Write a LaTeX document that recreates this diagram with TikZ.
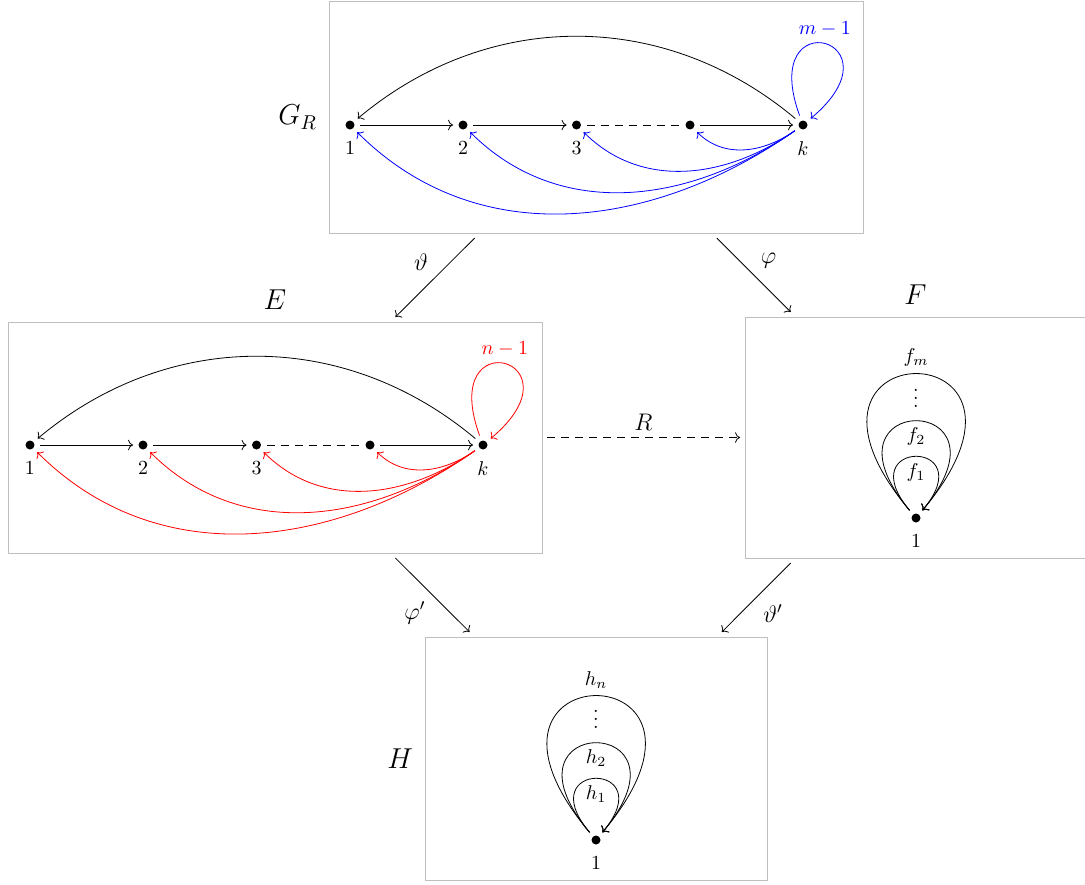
\documentclass[tikz,border=0pt]{standalone}
\usepackage{amsmath,amssymb}
\usetikzlibrary{arrows.meta,positioning}

\begin{document}
\begin{tikzpicture}[
  x=0.5pt, y=-0.5pt,
  dot/.style={circle, fill, inner sep=0pt, minimum size=4.5pt, outer sep=2.75pt, label distance=-1pt, every label/.style={inner sep=1pt}},
  box/.style={draw=gray!50, inner sep=0pt, outer sep=2.5pt},
  arr/.style={->},
  dsh/.style={dash pattern=on 4pt off 3pt},
  lab/.style={font=\large, midway}
]
\useasboundingbox (0,0) rectangle (1085,884);
% frames
\node[box, minimum width=267pt, minimum height=116pt, label=left:{\Large $G_R$}] (GR) at (596,117) {};
\node[box, minimum width=267pt, minimum height=115.5pt, label=above:{\Large $E$}] (E) at (275,437.5) {};
\node[box, minimum width=170.5pt, minimum height=120.5pt, label=above:{\Large $F$}] (F) at (915.5,437.5) {};
\node[box, minimum width=171pt, minimum height=121.5pt, label=left:{\Large $H$}] (H) at (596,758.5) {};

% graph G_R
\node[dot, label=below:$1$] (g1) at (350,125) {};
\node[dot, label=below:$2$] (g2) at (463,125) {};
\node[dot, label=below:$3$] (g3) at (576.5,125) {};
\node[dot] (g4) at (690,125) {};
\node[dot, label=below:$k$] (gk) at (803,125) {};
\draw[arr] (g1) -- (g2);
\draw[arr] (g2) -- (g3);
\draw[dsh] (g3) -- (g4);
\draw[arr] (g4) -- (gk);
\draw[arr] (gk) to[out=140,in=40] (g1);
\draw[arr, blue] (gk) to[out=110,in=40,min distance=62pt] node[above]{$m-1$} (gk);
\foreach \t in {g4,g3,g2,g1}
  \draw[arr, blue] (gk) to[out=215,in=-45] (\t);

% graph E
\node[dot, label=below:$1$] (e1) at (30,445) {};
\node[dot, label=below:$2$] (e2) at (143,445) {};
\node[dot, label=below:$3$] (e3) at (256.5,445) {};
\node[dot] (e4) at (370,445) {};
\node[dot, label=below:$k$] (ek) at (483,445) {};
\draw[arr] (e1) -- (e2);
\draw[arr] (e2) -- (e3);
\draw[dsh] (e3) -- (e4);
\draw[arr] (e4) -- (ek);
\draw[arr] (ek) to[out=140,in=40] (e1);
\draw[arr, red] (ek) to[out=110,in=40,min distance=62pt] node[above]{$n-1$} (ek);
\foreach \t in {e4,e3,e2,e1}
  \draw[arr, red] (ek) to[out=215,in=-45] (\t);

% bouquet F
\node[dot, label=below:$1$] (fv) at (916,518) {};
\draw[arr] (fv) to[out=130,in=50,min distance=47pt] node[below]{$f_1$} (fv);
\draw[arr] (fv) to[out=130,in=50,min distance=78pt] node[below]{$f_2$} (fv);
\draw[arr] (fv) to[out=130,in=50,min distance=119pt] node[above]{$f_m$} (fv);
\node[inner sep=0pt] (fdots) at (916,392) {$\vdots$};

% bouquet H
\node[dot, label=below:$1$] (hv) at (596,840) {};
\draw[arr] (hv) to[out=130,in=50,min distance=47pt] node[below]{$h_1$} (hv);
\draw[arr] (hv) to[out=130,in=50,min distance=78pt] node[below]{$h_2$} (hv);
\draw[arr] (hv) to[out=130,in=50,min distance=119pt] node[above]{$h_n$} (hv);
\node[inner sep=0pt] (hdots) at (596,713) {$\vdots$};

% maps
\draw[arr] (GR) -- node[lab, above left]{$\vartheta$} (E);
\draw[arr] (GR) -- node[lab, above right]{$\varphi$} (F);
\draw[arr, dsh] (E) -- node[lab, above]{$R$} (F);
\draw[arr] (E) -- node[lab, below left]{$\varphi'$} (H);
\draw[arr] (F) -- node[lab, below right]{$\vartheta'$} (H);
\end{tikzpicture}
\end{document}
